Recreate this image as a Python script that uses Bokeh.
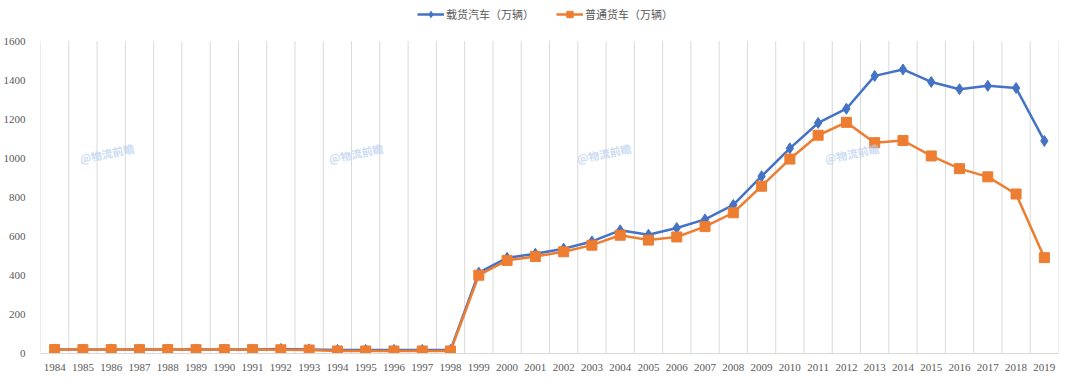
from bokeh.plotting import figure
from bokeh.models import Range1d, FixedTicker, Legend, LegendItem, Label
from bokeh.embed import file_html
from bokeh.resources import INLINE

years = ["1984", "1985", "1986", "1987", "1988", "1989", "1990", "1991", "1992",
         "1993", "1994", "1995", "1996", "1997", "1998", "1999", "2000", "2001",
         "2002", "2003", "2004", "2005", "2006", "2007", "2008", "2009", "2010",
         "2011", "2012", "2013", "2014", "2015", "2016", "2017", "2018", "2019"]

trucks = [21, 21, 21, 21, 21, 21, 21, 21, 23, 21, 18, 18, 18, 18, 18,
          414, 490, 511, 537, 574, 631, 608, 643, 687, 761, 908, 1051,
          1181, 1254, 1422, 1455, 1391, 1354, 1371, 1360, 1089]

general = [20, 20, 20, 20, 20, 20, 20, 20, 19, 18, 13, 13, 13, 13, 13,
           401, 477, 497, 521, 555, 606, 581, 597, 650, 721, 857, 996,
           1118, 1184, 1080, 1091, 1012, 947, 905, 817, 491]

series_names = ["载货汽车（万辆）", "普通货车（万辆）"]
y_ticks = [0, 200, 400, 600, 800, 1000, 1200, 1400, 1600]
watermark = "@物流前瞻"

BLUE = "#4472C4"
ORANGE = "#ED7D31"
GRID = "#d9d9d9"
TXT = "#595959"

# layout (pixels)
W, H = 1064, 373
BORDER_L, BORDER_R, BORDER_B = 32, 6, 17
AXIS_TOP_PX = 41          # where the top of the value axis sits
frame_h = H - BORDER_B
y_max = y_ticks[-1] * frame_h / (frame_h - AXIS_TOP_PX)

x = list(range(len(years)))

p = figure(width=W, height=H, output_backend="svg", toolbar_location=None,
           x_range=Range1d(-0.5, len(years) - 0.5), y_range=Range1d(0, y_max),
           min_border_left=BORDER_L, min_border_right=BORDER_R, min_border_top=0,
           min_border_bottom=BORDER_B)
p.outline_line_color = None
p.background_fill_color = "white"
p.border_fill_color = "white"
p.xgrid.grid_line_color = None
p.ygrid.grid_line_color = None

# vertical category separators (value-axis height only)
bounds = [i - 0.5 for i in range(len(years) + 1)]
p.segment(x0=bounds, y0=[0] * len(bounds), x1=bounds, y1=[y_ticks[-1]] * len(bounds),
          line_color=GRID, line_width=1)

p.xaxis.ticker = FixedTicker(ticks=x)
p.xaxis.major_label_overrides = {i: y for i, y in enumerate(years)}
p.xaxis.axis_line_color = GRID
p.xaxis.major_tick_line_color = None
p.xaxis.minor_tick_line_color = None
p.xaxis.major_label_text_font = "Liberation Serif"
p.xaxis.major_label_text_font_size = "11px"
p.xaxis.major_label_text_color = TXT
p.xaxis.major_label_standoff = 4

p.yaxis.ticker = FixedTicker(ticks=y_ticks)
p.yaxis.axis_line_color = None
p.yaxis.major_tick_line_color = None
p.yaxis.minor_tick_line_color = None
p.yaxis.major_label_text_font = "Liberation Serif"
p.yaxis.major_label_text_font_size = "11px"
p.yaxis.major_label_text_color = TXT
p.yaxis.major_label_standoff = 9

# watermarks
for wx in [1.85, 10.66, 19.43, 28.2]:
    p.add_layout(Label(x=wx, y=1026, text=watermark, angle=0.2,
                       text_align="center", text_baseline="middle",
                       text_color="#b9d0ee", text_alpha=0.75,
                       text_font="Noto Sans CJK SC", text_font_style="bold",
                       text_font_size="11px"))

l1 = p.line(x, trucks, line_color=BLUE, line_width=2.5)
s1 = p.scatter(x, trucks, marker="diamond", size=11, fill_color=BLUE, line_color=BLUE)
l2 = p.line(x, general, line_color=ORANGE, line_width=2.5)
s2 = p.scatter(x, general, marker="square", size=10, fill_color=ORANGE, line_color=ORANGE)

legend = Legend(items=[LegendItem(label=series_names[0], renderers=[l1, s1]),
                       LegendItem(label=series_names[1], renderers=[l2, s2])],
                orientation="horizontal", location=(377, frame_h - 16 - 9))
legend.border_line_color = None
legend.background_fill_alpha = 0
legend.label_text_font = "Noto Sans CJK SC"
legend.label_text_font_size = "11px"
legend.label_text_color = TXT
legend.glyph_width = 27
legend.glyph_height = 16
legend.label_height = 16
legend.label_standoff = 2
legend.spacing = 22
legend.padding = 0
legend.margin = 0
p.add_layout(legend)

open("out.html", "w").write(file_html(p, INLINE))
